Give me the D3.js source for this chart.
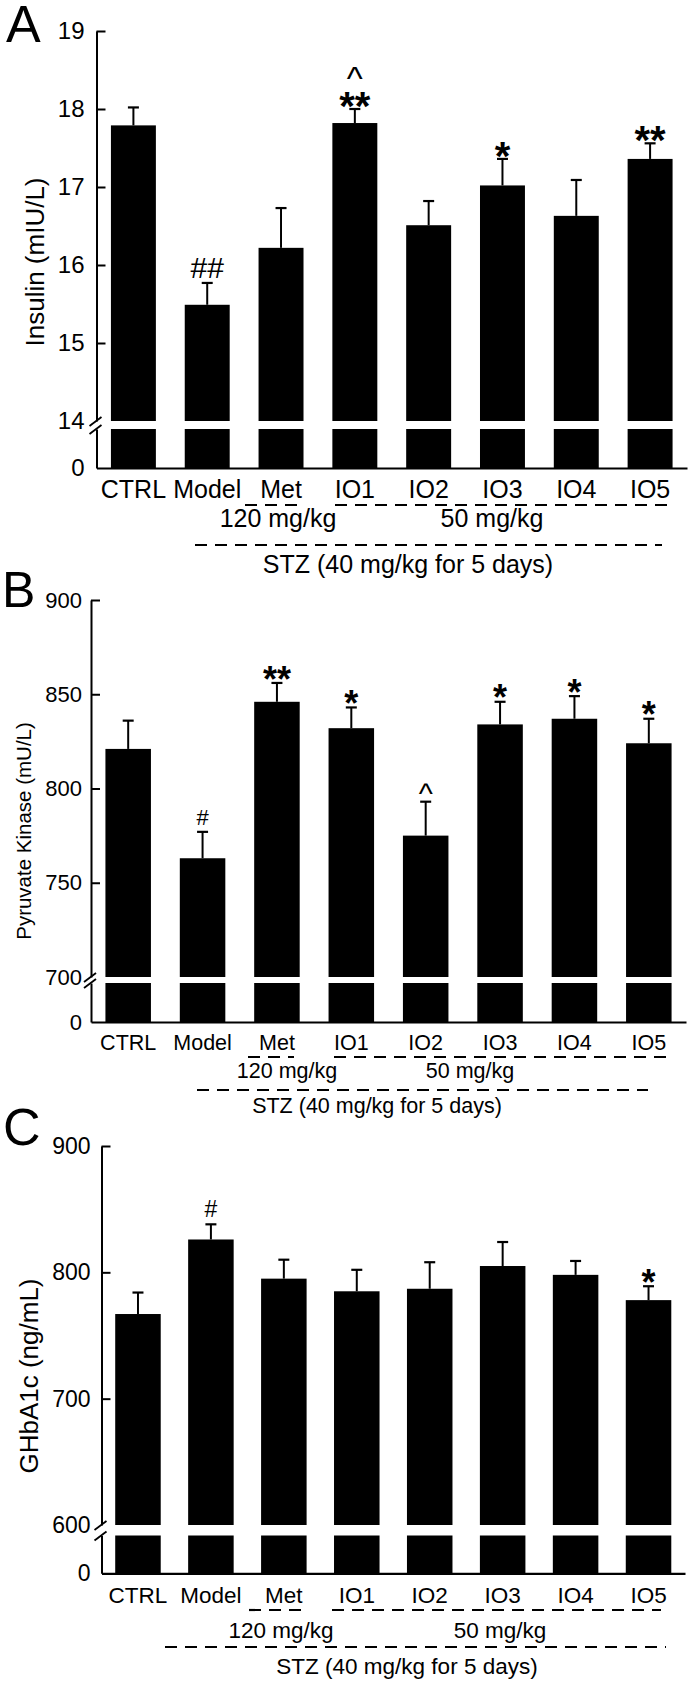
<!DOCTYPE html>
<html><head><meta charset="utf-8">
<script src="https://cdn.jsdelivr.net/npm/d3@7/dist/d3.min.js"></script>
<style>
body{margin:0;background:#fff}
svg{display:block}
text{font-family:"Liberation Sans",Arial,Helvetica,sans-serif;fill:#000}
</style>
</head><body>
<svg id="chart" width="697" height="1688"></svg>
<script>
// ---------- data ----------
const categories = ["CTRL","Model","Met","IO1","IO2","IO3","IO4","IO5"];

const insulinMeans  = [17.79, 15.49, 16.22, 17.82, 16.51, 17.02, 16.63, 17.36];
const insulinErrors = [0.23, 0.28, 0.51, 0.18, 0.31, 0.34, 0.46, 0.20];
const insulinSig    = ["", "##", "", "**", "", "*", "", "**"];
const insulinSig2   = ["", "", "", "^", "", "", "", ""];
const insulinTicks  = [15, 16, 17, 18, 19];

const pkMeans  = [821, 763, 846, 832, 775, 834, 837, 824];
const pkErrors = [15, 14, 10, 11, 18, 12, 12, 13];
const pkSig    = ["", "#", "**", "*", "^", "*", "*", "*"];
const pkSig2   = ["", "", "", "", "", "", "", ""];
const pkTicks  = [750, 800, 850, 900];

const ghbMeans  = [767, 826, 795, 785, 787, 805, 798, 778];
const ghbErrors = [17, 12, 15, 17, 21, 19, 11, 11];
const ghbSig    = ["", "#", "", "", "", "", "", "*"];
const ghbSig2   = ["", "", "", "", "", "", "", ""];
const ghbTicks  = [700, 800, 900];

const doseMet = "120 mg/kg";
const doseIO  = "50 mg/kg";
const stzText = "STZ (40 mg/kg for 5 days)";

// ---------- panel layout ----------
const panels = [
  {letter:"A", title:"Insulin (mIU/L)", means:insulinMeans, errors:insulinErrors, sig:insulinSig, sig2:insulinSig2,
   ticks:insulinTicks, breakVal:14, maxVal:19,
   axisX:96.5, xEnd:687, yTop:31, yBreak:421, yLowerTop:429, yBase:468, pad:0.391,
   letterPos:[6,42], letterSize:52, titlePos:[44,262], titleSize:26, tickSize:24, tickPad:12,
   labelSize:25, labelY:498, dash1Y:505, metDash:[245,297], longDash:[335,667],
   doseY:527, dose120X:278, dose50X:492, dash2Y:545, dash2:[195,662], stzY:573, stzX:408,
   star:40, hash:30, caret:34},
  {letter:"B", title:"Pyruvate Kinase (mU/L)", means:pkMeans, errors:pkErrors, sig:pkSig, sig2:pkSig2,
   ticks:pkTicks, breakVal:700, maxVal:900,
   axisX:91, xEnd:686, yTop:600, yBreak:977, yLowerTop:983, yBase:1022, pad:0.388,
   letterPos:[2,607], letterSize:50, titlePos:[31,831], titleSize:20.5, tickSize:22, tickPad:9,
   labelSize:21.5, labelY:1050, dash1Y:1057, metDash:[248,294], longDash:[334,673],
   doseY:1078, dose120X:287, dose50X:470, dash2Y:1090, dash2:[197,648], stzY:1113, stzX:377,
   star:36, hash:22, caret:30},
  {letter:"C", title:"GHbA1c (ng/mL)", means:ghbMeans, errors:ghbErrors, sig:ghbSig, sig2:ghbSig2,
   ticks:ghbTicks, breakVal:600, maxVal:900,
   axisX:101.5, xEnd:685, yTop:1146, yBreak:1525, yLowerTop:1535.5, yBase:1573.3, pad:0.376,
   letterPos:[3,1145], letterSize:52, titlePos:[38,1376], titleSize:26, tickSize:23, tickPad:11,
   labelSize:22.5, labelY:1603, dash1Y:1610, metDash:[249,303], longDash:[332,661],
   doseY:1638, dose120X:281, dose50X:500, dash2Y:1647, dash2:[165,666], stzY:1674, stzX:407,
   star:36, hash:23, caret:30}
];

const svg = d3.select("#chart");

function dashLine(g, x0, x1, y) {
  g.append("line").attr("x1", x0).attr("x2", x1).attr("y1", y).attr("y2", y)
    .attr("stroke", "#000").attr("stroke-width", 2.2).attr("stroke-dasharray", "12,8");
}

function markStyle(s, p) {
  if (s[0] === "*") return {size: p.star, k: 0.60, weight: "bold"};
  if (s[0] === "#") return {size: p.hash, k: 0.35, weight: "normal"};
  return {size: p.caret, k: 0.50, weight: "normal"};
}

panels.forEach(p => {
  const g = svg.append("g");

  const x = d3.scaleBand().domain(categories)
    .range([p.axisX, p.xEnd]).paddingInner(p.pad).paddingOuter(p.pad / 2);
  const yU = d3.scaleLinear().domain([p.breakVal, p.maxVal]).range([p.yBreak, p.yTop]);
  const yL = d3.scaleLinear().domain([0, p.breakVal]).range([p.yBase, p.yLowerTop]);

  // bars (upper + lower segments)
  g.selectAll(".barU").data(p.means).join("rect")
    .attr("x", (d, i) => x(categories[i])).attr("width", x.bandwidth())
    .attr("y", d => yU(d)).attr("height", d => yU(p.breakVal) - yU(d))
    .attr("fill", "#000");
  g.selectAll(".barL").data(p.means).join("rect")
    .attr("x", (d, i) => x(categories[i])).attr("width", x.bandwidth())
    .attr("y", yL(p.breakVal)).attr("height", yL(0) - yL(p.breakVal))
    .attr("fill", "#000");

  // error bars + significance marks
  p.means.forEach((m, i) => {
    const cx = x(categories[i]) + x.bandwidth() / 2;
    const yt = yU(m + p.errors[i]);
    g.append("line").attr("x1", cx).attr("x2", cx).attr("y1", yU(m)).attr("y2", yt)
      .attr("stroke", "#000").attr("stroke-width", 2);
    g.append("line").attr("x1", cx - 5.5).attr("x2", cx + 5.5).attr("y1", yt).attr("y2", yt)
      .attr("stroke", "#000").attr("stroke-width", 2.2);

    const s1 = p.sig[i];
    if (!s1) return;
    const gap = s1[0] === "#" ? 15 : 13;
    const c1 = yt - gap;
    const t = g.append("text").attr("text-anchor", "middle");
    const st1 = markStyle(s1, p);
    if (p.sig2[i]) {
      const st2 = markStyle(p.sig2[i], p);
      t.append("tspan").attr("x", cx).attr("y", c1 - 23 + st2.k * st2.size)
        .attr("font-size", st2.size).attr("font-weight", st2.weight).text(p.sig2[i]);
    }
    t.append("tspan").attr("x", cx).attr("y", c1 + st1.k * st1.size)
      .attr("font-size", st1.size).attr("font-weight", st1.weight).text(s1);
  });

  // y axis upper
  const axU = d3.axisLeft(yU).tickValues([p.breakVal].concat(p.ticks))
    .tickSizeInner(-9).tickSizeOuter(0).tickPadding(p.tickPad).tickFormat(d3.format("d"));
  const gU = g.append("g").attr("transform", `translate(${p.axisX},0)`).call(axU);
  gU.selectAll(".tick").filter(d => d === p.breakVal).select("line").remove();

  // y axis lower
  const axL = d3.axisLeft(yL).tickValues([0]).tickSizeInner(0).tickSizeOuter(0)
    .tickPadding(p.tickPad).tickFormat(d3.format("d"));
  const gL = g.append("g").attr("transform", `translate(${p.axisX},0)`).call(axL);

  [gU, gL].forEach(ga => {
    ga.select(".domain").attr("stroke", "#000").attr("stroke-width", 2);
    ga.selectAll(".tick line").attr("stroke", "#000").attr("stroke-width", 2);
    ga.selectAll(".tick text").attr("font-size", p.tickSize)
      .attr("font-family", '"Liberation Sans",Arial,sans-serif').attr("fill", "#000");
  });

  // axis break slashes
  [p.yBreak, p.yLowerTop].forEach(yy => {
    g.append("line").attr("x1", p.axisX - 7).attr("x2", p.axisX + 5)
      .attr("y1", yy + 5).attr("y2", yy - 4)
      .attr("stroke", "#000").attr("stroke-width", 1.8);
  });

  // x axis
  const axX = d3.axisBottom(x).tickSize(0).tickSizeOuter(0);
  const gX = g.append("g").attr("transform", `translate(0,${p.yBase})`).call(axX);
  gX.select(".domain").attr("stroke", "#000").attr("stroke-width", 2.2);
  gX.selectAll(".tick text").attr("font-size", p.labelSize)
    .attr("font-family", '"Liberation Sans",Arial,sans-serif').attr("fill", "#000")
    .attr("dy", null).attr("y", p.labelY - p.yBase);

  // treatment annotations
  dashLine(g, p.metDash[0], p.metDash[1], p.dash1Y);
  dashLine(g, p.longDash[0], p.longDash[1], p.dash1Y);
  g.append("text").attr("x", p.dose120X).attr("y", p.doseY).attr("text-anchor", "middle")
    .attr("font-size", p.labelSize).text(doseMet);
  g.append("text").attr("x", p.dose50X).attr("y", p.doseY).attr("text-anchor", "middle")
    .attr("font-size", p.labelSize).text(doseIO);
  dashLine(g, p.dash2[0], p.dash2[1], p.dash2Y);
  g.append("text").attr("x", p.stzX).attr("y", p.stzY).attr("text-anchor", "middle")
    .attr("font-size", p.labelSize).text(stzText);

  // panel letter
  g.append("text").attr("x", p.letterPos[0]).attr("y", p.letterPos[1])
    .attr("font-size", p.letterSize).text(p.letter);

  // y title
  g.append("text").attr("transform", `translate(${p.titlePos[0]},${p.titlePos[1]}) rotate(-90)`)
    .attr("text-anchor", "middle").attr("font-size", p.titleSize).text(p.title);
});
</script>
</body></html>
